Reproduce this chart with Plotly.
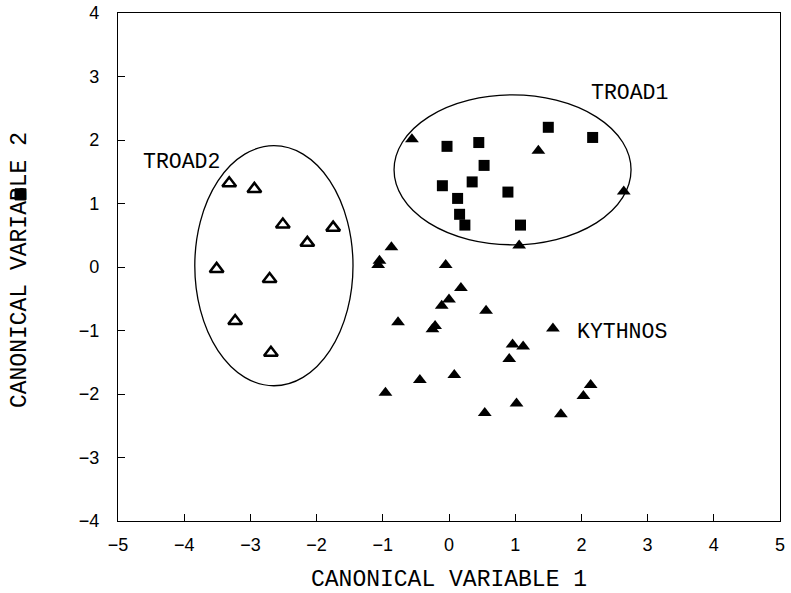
import plotly.graph_objects as go

# TROAD1 (filled squares)
troad1_x = [-0.03, 0.45, 0.53, -0.10, 0.35, 0.13, 0.16, 0.24, 0.89, 1.08, 1.50, 2.17]
troad1_y = [1.90, 1.96, 1.60, 1.28, 1.34, 1.08, 0.83, 0.66, 1.18, 0.66, 2.20, 2.04]

# TROAD2 (open triangles)
troad2_x = [-3.32, -2.94, -2.51, -1.75, -2.14, -3.51, -2.71, -3.23, -2.69]
troad2_y = [1.32, 1.23, 0.67, 0.62, 0.38, -0.03, -0.19, -0.85, -1.35]

# KYTHNOS (filled triangles)
kythnos_x = [-0.56, 1.35, 2.64, 1.06, -0.87, -1.05, -1.07, -0.05, 0.18, 0.00, -0.11, 0.56,
             -0.77, -0.21, -0.25, 1.57, 0.96, 1.12, 0.91, 0.08, -0.44, -0.96, 2.14, 2.03,
             1.02, 0.54, 1.69]
kythnos_y = [2.01, 1.83, 1.19, 0.34, 0.31, 0.10, 0.03, 0.03, -0.33, -0.51, -0.61, -0.69,
             -0.87, -0.93, -0.98, -0.97, -1.22, -1.25, -1.45, -1.70, -1.78, -1.98, -1.86, -2.03,
             -2.15, -2.30, -2.32]

# group ellipses (x0, x1, y0, y1) in data units
ellipse_troad1 = (-0.83, 2.75, 0.35, 2.71)
ellipse_troad2 = (-3.84, -1.45, -1.87, 1.91)

# group labels
group_names = ["TROAD1", "TROAD2", "KYTHNOS"]
label_x = [2.72, -4.04, 2.61]
label_y = [2.74, 1.65, -1.03]

x_title = "CANONICAL VARIABLE 1"
y_title = "CANONICAL VARIABLE 2"

x_ticks = [-5, -4, -3, -2, -1, 0, 1, 2, 3, 4, 5]
y_ticks = [-4, -3, -2, -1, 0, 1, 2, 3, 4]

title_font = dict(family="Liberation Mono", size=23, color="black")
label_font = dict(family="Liberation Mono", size=21.5, color="black")
tick_font = dict(family="Liberation Sans", size=18, color="black")

fig = go.Figure()
fig.add_trace(go.Scatter(x=troad1_x, y=troad1_y, mode="markers", name="TROAD1",
                         marker=dict(symbol="square", size=11, color="black")))
fig.add_trace(go.Scatter(x=troad2_x, y=troad2_y, mode="markers", name="TROAD2",
                         marker=dict(symbol="triangle-up-open", size=12, color="black",
                                     line=dict(width=2.5, color="black"))))
fig.add_trace(go.Scatter(x=kythnos_x, y=kythnos_y, mode="markers", name="KYTHNOS",
                         marker=dict(symbol="triangle-up", size=12, color="black")))

for e in (ellipse_troad1, ellipse_troad2):
    fig.add_shape(type="circle", xref="x", yref="y", x0=e[0], x1=e[1], y0=e[2], y1=e[3],
                  line=dict(color="black", width=1.3))

for name, lx, ly in zip(group_names, label_x, label_y):
    fig.add_annotation(x=lx, y=ly, text=name, showarrow=False, font=label_font)

# axis titles
fig.add_annotation(x=0.5, y=-0.116, xref="paper", yref="paper", text=x_title,
                   showarrow=False, font=title_font, xanchor="center", yanchor="middle")
fig.add_annotation(x=-0.148, y=0.494, xref="paper", yref="paper", text=y_title,
                   showarrow=False, font=title_font, textangle=-90,
                   xanchor="center", yanchor="middle")

# stray square mark over the B of the y-axis title (as in the original)
fig.add_shape(type="rect", xref="paper", yref="paper", layer="above",
              x0=-0.1556, x1=-0.139, y0=0.632, y1=0.654,
              fillcolor="black", line=dict(color="black", width=1))

fig.update_layout(
    width=791, height=593,
    margin=dict(l=118, r=11, t=13, b=72),
    paper_bgcolor="white", plot_bgcolor="white",
    showlegend=False,
)
fig.update_xaxes(range=[-5, 5], tickvals=x_ticks, ticks="inside", ticklen=7, tickwidth=1.2,
                 tickcolor="black", showline=True, linecolor="black", linewidth=1.3,
                 mirror=True, showgrid=False, zeroline=False, tickfont=tick_font,
                 ticklabelstandoff=7, ticklabeloverflow="allow", automargin=False)
fig.update_yaxes(range=[-4, 4], tickvals=y_ticks, ticks="inside", ticklen=7, tickwidth=1.2,
                 tickcolor="black", showline=True, linecolor="black", linewidth=1.3,
                 mirror=True, showgrid=False, zeroline=False, tickfont=tick_font,
                 ticklabelstandoff=14, ticklabeloverflow="allow", automargin=False)

# remove the browser's default page margin so the figure fills the window exactly
fig.write_html("out.html", config={"displayModeBar": False},
               post_script="document.body.style.margin='0px';")
